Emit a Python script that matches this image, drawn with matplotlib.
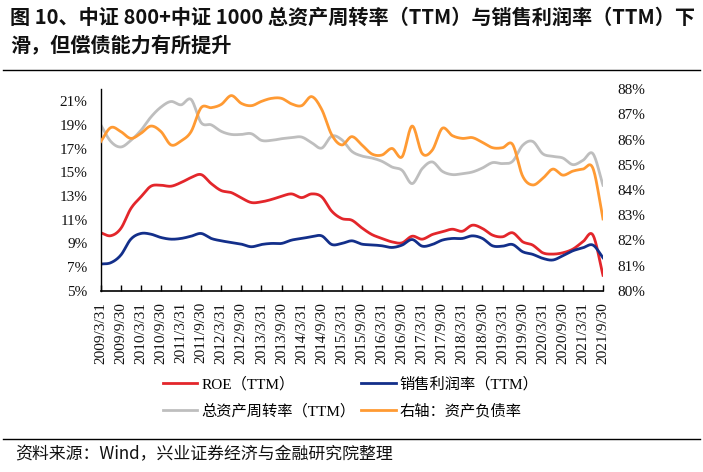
import numpy as np
import matplotlib
matplotlib.use("Agg")
import matplotlib.pyplot as plt
from matplotlib.lines import Line2D
from matplotlib.ticker import FuncFormatter

# ---------------- data (quarterly, 2009Q1 .. 2021Q3) ----------------
quarters = []
for yr in range(2009, 2022):
    for md in ["3/31", "6/30", "9/30", "12/31"]:
        quarters.append(f"{yr}/{md}")
quarters = quarters[:51]

roe = [9.89, 9.64, 10.25, 11.93, 12.92, 13.82, 13.90, 13.82, 14.13, 14.55,
       14.80, 14.04, 13.45, 13.28, 12.83, 12.44, 12.50, 12.70, 12.97, 13.17,
       12.86, 13.17, 12.92, 11.71, 11.09, 10.95, 10.30, 9.74, 9.41, 9.12,
       9.04, 9.60, 9.35, 9.74, 9.97, 10.19, 10.02, 10.53, 10.25, 9.69,
       9.55, 9.89, 9.13, 8.85, 8.20, 8.09, 8.20, 8.51, 9.13, 9.69, 6.30]

profit_margin = [7.25, 7.36, 8.00, 9.35, 9.83, 9.77, 9.49, 9.35, 9.41, 9.60,
                 9.83, 9.41, 9.21, 9.07, 8.93, 8.71, 8.90, 8.99, 8.99, 9.27,
                 9.41, 9.55, 9.63, 8.90, 8.99, 9.21, 8.93, 8.87, 8.79, 8.65,
                 8.85, 9.32, 8.76, 8.90, 9.27, 9.41, 9.41, 9.63, 9.41, 8.79,
                 8.76, 8.90, 8.29, 8.07, 7.73, 7.59, 7.95, 8.37, 8.62, 8.85, 7.78]

asset_turnover = [19.00, 17.60, 17.13, 17.69, 18.53, 19.66, 20.50, 20.97, 20.69, 21.14,
                  19.18, 19.00, 18.45, 18.19, 18.19, 18.25, 17.69, 17.69, 17.83, 17.92,
                  17.97, 17.49, 17.04, 18.05, 17.74, 16.76, 16.37, 16.20, 15.92, 15.44,
                  15.16, 14.04, 15.30, 15.87, 15.08, 14.80, 14.88, 15.02, 15.36, 15.81,
                  15.73, 15.92, 17.27, 17.60, 16.56, 16.34, 16.20, 15.64, 16.00, 16.56, 13.90]

debt_ratio = [85.92, 86.48, 86.32, 86.05, 86.25, 86.54, 86.32, 85.79, 85.95, 86.32,
              87.27, 87.27, 87.40, 87.75, 87.44, 87.35, 87.52, 87.64, 87.64, 87.42,
              87.35, 87.71, 87.20, 86.19, 85.79, 86.12, 85.79, 85.43, 85.39, 85.65,
              85.32, 86.54, 85.45, 85.58, 86.45, 86.16, 86.05, 86.08, 85.89, 85.68,
              85.68, 85.81, 84.55, 84.20, 84.46, 84.83, 84.59, 84.75, 84.83, 84.86, 82.85]

series_labels = ["ROE（TTM）", "总资产周转率（TTM）", "销售利润率（TTM）", "右轴：资产负债率"]
colors = {"roe": "#E3262B", "pm": "#132F8A", "at": "#BEBEBE", "dr": "#FF9A33"}


def smooth(vals, n=16):
    """Catmull-Rom smoothing (like spreadsheet 'smoothed line')."""
    y = np.asarray(vals, dtype=float)
    P = np.concatenate([[2 * y[0] - y[1]], y, [2 * y[-1] - y[-2]]])
    xs, ys = [], []
    t = np.linspace(0, 1, n, endpoint=False)
    for i in range(len(y) - 1):
        p0, p1, p2, p3 = P[i:i + 4]
        c = 0.5 * (2 * p1 + (-p0 + p2) * t + (2 * p0 - 5 * p1 + 4 * p2 - p3) * t ** 2
                   + (-p0 + 3 * p1 - 3 * p2 + p3) * t ** 3)
        xs.append(i + t)
        ys.append(c)
    xs.append([len(y) - 1])
    ys.append([y[-1]])
    return np.concatenate(xs), np.concatenate(ys)


W, H = 703, 472
fig = plt.figure(figsize=(W / 100, H / 100), dpi=100)
fig.patch.set_facecolor("white")

serif = ["Liberation Serif", "Noto Sans CJK SC"]
cjk = ["Noto Sans CJK SC", "DejaVu Sans"]

ax = fig.add_axes([100.7 / W, 1 - 290.7 / H, (603 - 100.7) / W, (290.7 - 89.3) / H])
ax2 = ax.twinx()

lw = 2.0
x_roe, y_roe = smooth(roe)
x_pm, y_pm = smooth(profit_margin)
x_at, y_at = smooth(asset_turnover)
x_dr, y_dr = smooth(debt_ratio)

l_at, = ax.plot(x_at, y_at, color=colors["at"], lw=lw, label=series_labels[1])
l_roe, = ax.plot(x_roe, y_roe, color=colors["roe"], lw=lw, label=series_labels[0])
l_pm, = ax.plot(x_pm, y_pm, color=colors["pm"], lw=lw, label=series_labels[2])
l_dr, = ax2.plot(x_dr, y_dr, color=colors["dr"], lw=lw, label=series_labels[3])

ax.set_xlim(0, len(quarters) - 1)
ax.set_ylim(5, 22)
ax2.set_ylim(80, 88)
ax.set_yticks(np.arange(5, 22, 2))
ax2.set_yticks(np.arange(80, 89, 1))
pct = FuncFormatter(lambda v, p: f"{v:.0f}%")
ax.yaxis.set_major_formatter(pct)
ax2.yaxis.set_major_formatter(pct)

tick_idx = list(range(0, len(quarters), 2))
ax.set_xticks(tick_idx)
ax.set_xticklabels([quarters[i] for i in tick_idx], rotation=90)

for a in (ax, ax2):
    for s in ["top", "right"]:
        a.spines[s].set_visible(False)
ax2.spines["left"].set_visible(False)
ax2.spines["bottom"].set_visible(False)
ax.spines["left"].set_linewidth(1.0)
ax.spines["bottom"].set_linewidth(1.2)

ax.tick_params(axis="x", direction="in", length=4, width=1, pad=8)
ax.tick_params(axis="y", length=0, pad=9.5)
ax2.tick_params(axis="y", length=0, pad=10.5)
for lab in ax.get_xticklabels() + ax.get_yticklabels() + ax2.get_yticklabels():
    lab.set_fontfamily(serif)
    lab.set_fontsize(11)
    lab.set_color("#111111")

# legend
fig.legend(handles=[l_roe, l_at, l_pm, l_dr], ncol=2, frameon=False,
           loc="upper left", bbox_to_anchor=(163 / W, 1 - 377 / H),
           prop={"family": serif, "size": 11},
           handlelength=2.25, handletextpad=0.25, columnspacing=0.4,
           labelspacing=0.8, borderpad=0, borderaxespad=0)

# title
title_kw = dict(fontsize=14.5, fontweight="bold", family=cjk, color="#111111",
                ha="left", va="center")
fig.text(10 / W, 1 - 17 / H,
         "图 10、中证 800+中证 1000 总资产周转率（TTM）与销售利润率（TTM）下", **title_kw)
fig.text(10 / W, 1 - 46 / H, "滑，但偿债能力有所提升", **title_kw)

fig.add_artist(Line2D([3 / W, 700 / W], [1 - 70 / H] * 2, color="black", lw=1.0,
                      transform=fig.transFigure))
fig.add_artist(Line2D([3 / W, 700 / W], [1 - 439 / H] * 2, color="black", lw=1.0,
                      transform=fig.transFigure))
fig.text(15 / W, 1 - 454 / H, "资料来源：Wind，兴业证券经济与金融研究院整理",
         fontsize=12.2, family=cjk, color="#111111", ha="left", va="center")

fig.savefig("out.png", dpi=100, facecolor="white")
